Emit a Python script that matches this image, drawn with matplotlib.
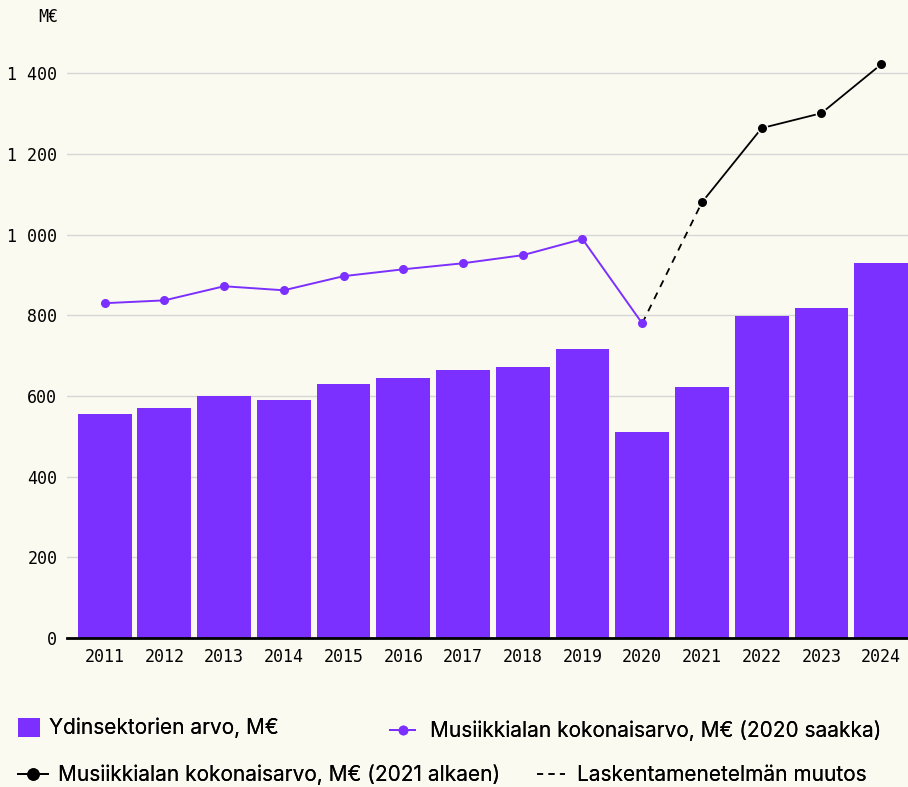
import numpy as np
import matplotlib
matplotlib.use("Agg")
import matplotlib.pyplot as plt
from matplotlib.patches import Patch
from matplotlib.lines import Line2D

# ===================== DATA =====================
years      = ["2011", "2012", "2013", "2014", "2015", "2016", "2017",
              "2018", "2019", "2020", "2021", "2022", "2023", "2024"]
core_value = [555, 570, 600, 590, 629, 644, 664, 671, 716, 510, 622, 798, 818, 929]
total_old  = [830, 837, 872, 862, 897, 914, 929, 949, 989, 780]       # 2011-2020
total_new  = [1080, 1264, 1301, 1422]                                # 2021-2024
yticks     = [0, 200, 400, 600, 800, 1000, 1200, 1400]
# ================================================

BG     = "#fbfaf1"
PURPLE = "#7c30ff"
MONO   = "DejaVu Sans Mono"
SANS   = "Inter"
W, H   = 908, 787

x = np.arange(len(years))
n_old = len(total_old)

fig = plt.figure(figsize=(W / 100, H / 100), dpi=100, facecolor=BG)
ax = fig.add_axes([67 / W, 149 / H, 1 - 67 / W, 597 / H])
ax.set_facecolor(BG)

ax.bar(x, core_value, width=0.9, color=PURPLE, zorder=2)

ax.plot(x[:n_old], total_old, color=PURPLE, lw=1.4, marker="o", ms=5.5, zorder=3)
ax.plot(x[n_old:], total_new, color="black", lw=1.3, marker="o", ms=7.5,
        markeredgecolor=BG, markeredgewidth=1.0, zorder=3)
# method change link 2020 -> 2021
ax.plot([x[n_old - 1], x[n_old]], [total_old[-1], total_new[0]],
        color="black", lw=1.3, ls=(0, (4, 3.5)), zorder=2.5)

ax.set_xlim(-0.63, len(years) - 0.55)
ax.set_ylim(0, 1480)
ax.set_yticks(yticks)
ax.set_yticklabels([f"{v:,}".replace(",", " ") for v in yticks],
                   family=MONO, fontsize=12)
ax.set_xticks(x)
ax.set_xticklabels(years, family=MONO, fontsize=12)
ax.tick_params(axis="both", length=0, colors="black")
ax.tick_params(axis="y", pad=7)
ax.tick_params(axis="x", pad=7.5)
ax.grid(axis="y", color="#d6d6d6", lw=1.0, zorder=0)
for s in ["top", "right", "left"]:
    ax.spines[s].set_visible(False)
ax.spines["bottom"].set_linewidth(2)
ax.spines["bottom"].set_zorder(4)

fig.text(58 / W, 1 - 17 / H, "M€", family=MONO, fontsize=12,
         ha="right", va="center")


def legend_item(handle, label, px, py, hlen, pad, hheight=0.7):
    leg = fig.legend([handle], [label], loc="center left",
                     bbox_to_anchor=(px / W, 1 - py / H), frameon=False,
                     prop={"family": SANS, "size": 15}, borderpad=0,
                     borderaxespad=0, handlelength=hlen, handleheight=hheight,
                     handletextpad=pad)
    fig.add_artist(leg)


legend_item(Patch(facecolor=PURPLE, edgecolor="none"),
            "Ydinsektorien arvo, M€", 18, 728, 1.05, 0.45, hheight=1.05)
legend_item(Line2D([], [], color=PURPLE, lw=1.4, marker="o", ms=6),
            "Musiikkialan kokonaisarvo, M€ (2020 saakka)", 390, 731, 1.2, 0.7)
legend_item(Line2D([], [], color="black", lw=1.3, marker="o", ms=8),
            "Musiikkialan kokonaisarvo, M€ (2021 alkaen)", 18, 775, 1.45, 0.45)
legend_item(Line2D([], [], color="black", lw=1.1, ls=(0, (4, 3.5))),
            "Laskentamenetelmän muutos", 537, 775, 1.35, 0.55)

fig.savefig("out.png", dpi=100, facecolor=BG)
